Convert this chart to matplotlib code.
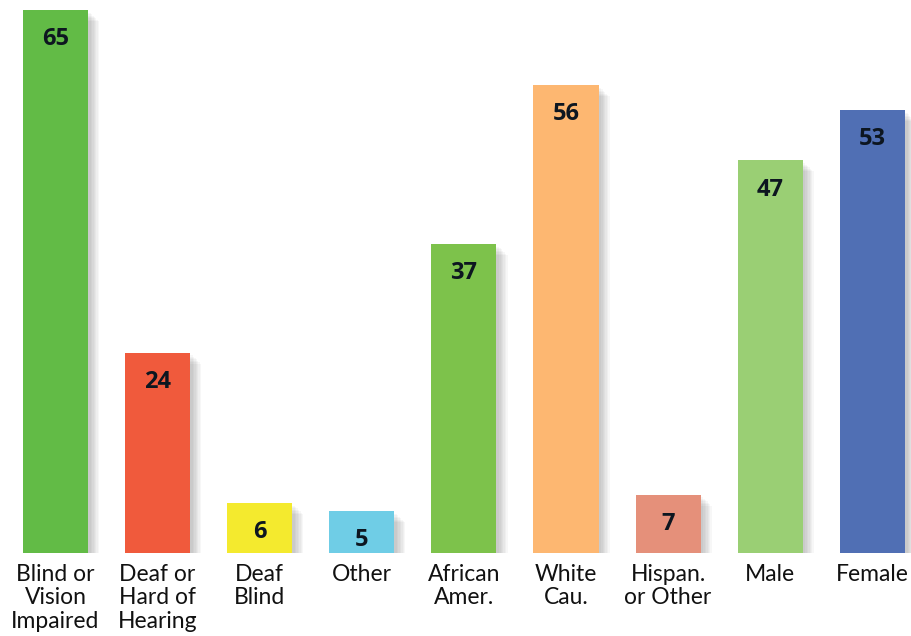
import matplotlib
matplotlib.use("Agg")
import matplotlib.pyplot as plt
import matplotlib.patheffects as pe

categories = ["Blind or\nVision\nImpaired", "Deaf or\nHard of\nHearing", "Deaf\nBlind", "Other",
              "African\nAmer.", "White\nCau.", "Hispan.\nor Other", "Male", "Female"]
values = [65, 24, 6, 5, 37, 56, 7, 47, 53]
colors = ["#62BB46", "#F05A3C", "#F4EA2E", "#6FCDE6", "#7DC24B", "#FDB771", "#E5907A", "#9ACF74", "#506FB4"]

plt.rcParams['font.family'] = ['Lato', 'DejaVu Sans']

fig = plt.figure(figsize=(9.12, 6.36), dpi=100)
ax = fig.add_axes([0, 83/636, 1, 553/636])
x = list(range(len(values)))
shadows = [pe.SimplePatchShadow(offset=(d, -d), shadow_rgbFace='black', alpha=0.03) for d in (2, 3, 4, 5, 6, 7, 8)]
bars = ax.bar(x, values, width=0.637, color=colors, zorder=2)
for b in bars:
    b.set_path_effects(shadows + [pe.Normal()])
for xi, v in zip(x, values):
    ax.annotate(str(v), (xi, v), xytext=(0, -21), textcoords='offset points',
                ha='center', va='center', fontsize=17, fontweight='bold', color='#0d1620',
                family=['Open Sans', 'DejaVu Sans'], zorder=3)
ax.set_xlim(-55.5/102.1, (912-55.5)/102.1)
ax.set_ylim(0, 553/8.354)
ax.set_xticks(x)
ax.set_xticklabels(categories, fontsize=16.5, color='#111111', linespacing=1.13, va='top')
ax.tick_params(axis='x', length=0, pad=8)
ax.set_yticks([])
for s in ax.spines.values():
    s.set_visible(False)
fig.savefig("out.png", dpi=100)
